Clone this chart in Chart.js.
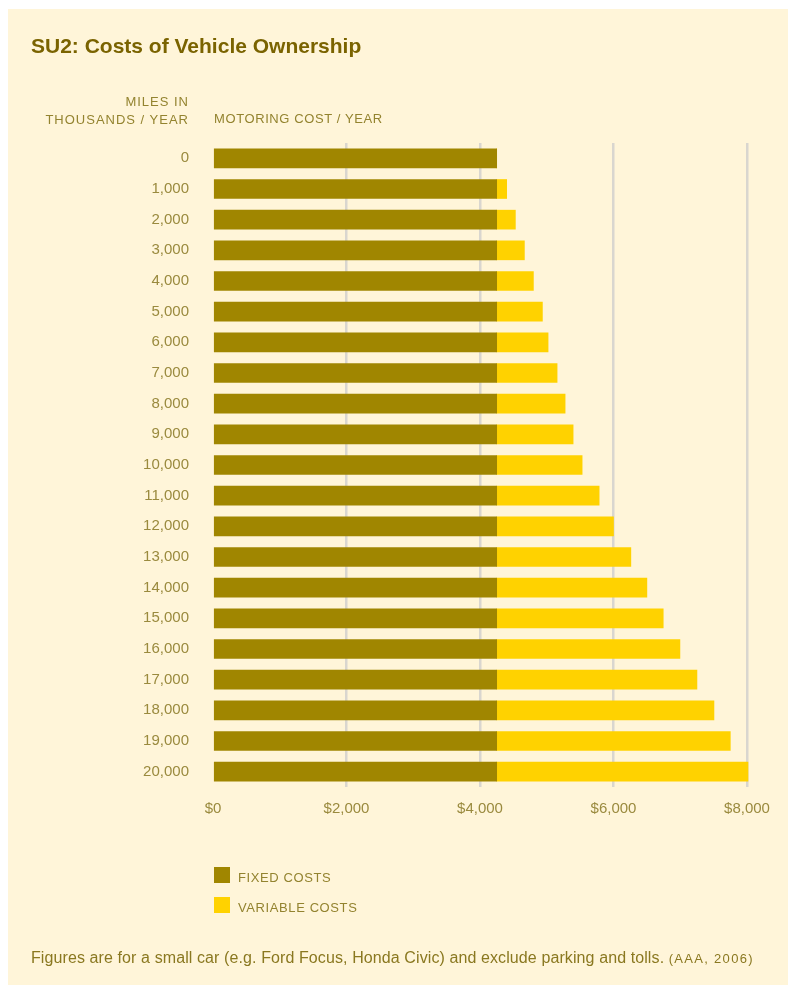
<!DOCTYPE html>
<html>
<head>
<meta charset="utf-8">
<script src="https://cdn.jsdelivr.net/npm/chart.js@4/dist/chart.umd.min.js"></script>
<style>
  body { margin: 0; background: #fff; width: 788px; height: 985px; overflow: hidden; position: relative; font-family: "Liberation Sans", Arial, sans-serif; }
  #panel { position: absolute; left: 8px; top: 9px; width: 780px; height: 976px; background: #fff5d9; }
  #chart { position: absolute; left: 0; top: 0; }
  .txt { position: absolute; white-space: nowrap; }
  #title { left: 31px; top: 35px; font: bold 21px/21px "Liberation Sans", Arial, sans-serif; color: #7a6300; }
  #hdrMiles { right: 599px; top: 93px; font-size: 13px; line-height: 17.5px; letter-spacing: 1px; color: #93832f; text-align: right; }
  #hdrCost { left: 214px; top: 110px; font-size: 13px; line-height: 17.5px; letter-spacing: 0.6px; color: #93832f; }
  .leg { position: absolute; left: 214px; width: 300px; font-size: 13px; line-height: 16px; letter-spacing: 0.6px; color: #93832f; white-space: nowrap; }
  .leg span { position: absolute; left: 0; top: 0; width: 16px; height: 16px; }
  .leg b { font-weight: normal; position: absolute; left: 24px; top: 3px; }
  #note { left: 31px; top: 950px; font-size: 16px; line-height: 16px; letter-spacing: 0.1px; color: #8a7820; }
  #note small { font-size: 13px; letter-spacing: 1.3px; }
</style>
</head>
<body>
<div id="panel"></div>
<canvas id="chart" width="788" height="985"></canvas>
<div class="txt" id="title">SU2: Costs of Vehicle Ownership</div>
<div class="txt" id="hdrMiles">MILES IN<br>THOUSANDS / YEAR</div>
<div class="txt" id="hdrCost">MOTORING COST / YEAR</div>
<div id="legend"></div>
<div class="txt" id="note">Figures are for a small car (e.g. Ford Focus, Honda Civic) and exclude parking and tolls. <small>(AAA, 2006)</small></div>

<script>
// data
let milesLabels = ["0", "1,000", "2,000", "3,000", "4,000", "5,000", "6,000", "7,000", "8,000", "9,000", "10,000",
                   "11,000", "12,000", "13,000", "14,000", "15,000", "16,000", "17,000", "18,000", "19,000", "20,000"];
let fixedCosts = [4250, 4250, 4250, 4250, 4250, 4250, 4250, 4250, 4250, 4250, 4250,
                  4250, 4250, 4250, 4250, 4250, 4250, 4250, 4250, 4250, 4250];
let variableCosts = [0, 150, 280, 415, 550, 685, 770, 905, 1025, 1145, 1280,
                     1535, 1750, 2010, 2250, 2495, 2745, 3000, 3255, 3500, 3765];
let costTicks = [0, 2000, 4000, 6000, 8000];
let seriesNames = ["FIXED COSTS", "VARIABLE COSTS"];
let seriesColors = ["#a08600", "#ffd200"];

let tickColor = "#9a8a3e";

let ctx = document.getElementById("chart").getContext("2d");

let costChart = new Chart(ctx, {
    type: "bar",
    data: {
        labels: milesLabels,
        datasets: [{
            label: seriesNames[0],
            data: fixedCosts,
            backgroundColor: seriesColors[0],
            barThickness: 19
        }, {
            label: seriesNames[1],
            data: variableCosts,
            backgroundColor: seriesColors[1],
            barThickness: 19,
            clip: false
        }]
    },
    options: {
        indexAxis: "y",
        responsive: false,
        animation: false,
        devicePixelRatio: 1,
        layout: { padding: { top: 143, right: 41, left: 0, bottom: 0 } },
        plugins: {
            legend: { display: false },
            tooltip: { enabled: false }
        },
        scales: {
            x: {
                stacked: true,
                min: 0,
                max: 8000,
                afterBuildTicks: function (axis) {
                    axis.ticks = costTicks.map(v => ({ value: v }));
                },
                afterFit: function (axis) { axis.height = 198; },
                ticks: {
                    padding: 13,
                    color: tickColor,
                    font: { family: "Liberation Sans", size: 15 },
                    maxRotation: 0,
                    callback: v => "$" + v.toLocaleString("en-US")
                },
                border: { display: false },
                grid: {
                    drawTicks: false,
                    lineWidth: 2.5,
                    color: c => (c.tick && c.tick.value === 0) ? "rgba(0,0,0,0)" : "#d9d6cf"
                }
            },
            y: {
                stacked: true,
                afterFit: function (axis) { axis.width = 213; },
                ticks: {
                    padding: 24,
                    color: tickColor,
                    font: { family: "Liberation Sans", size: 15 }
                },
                border: { display: false },
                grid: { display: false, drawTicks: false }
            }
        }
    }
});

// legend as html, built from the dataset names
let legendBox = document.getElementById("legend");
seriesNames.forEach(function (name, i) {
    let item = document.createElement("div");
    item.className = "leg";
    item.style.top = (867 + i * 30) + "px";
    item.innerHTML = '<span style="background:' + seriesColors[i] + '"></span><b>' + name + "</b>";
    legendBox.appendChild(item);
});
</script>
</body>
</html>
